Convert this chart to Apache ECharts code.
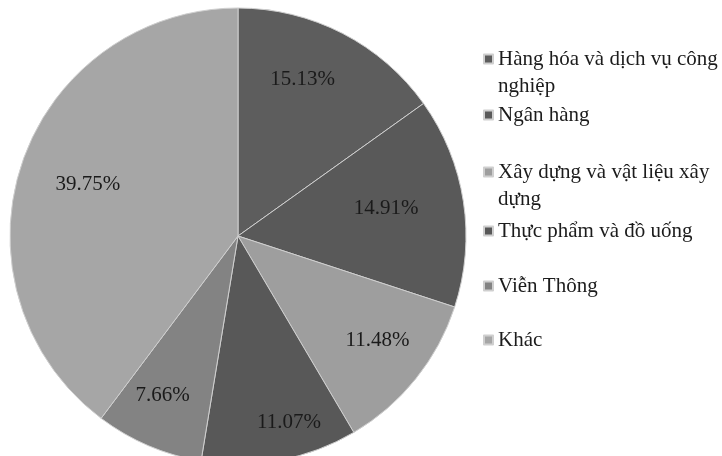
<!DOCTYPE html>
<html>
<head>
<meta charset="utf-8">
<script src="https://cdn.jsdelivr.net/npm/echarts@6/dist/echarts.min.js"></script>
<style>
html,body{margin:0;padding:0;background:#fff;}
#chart{width:722px;height:456px;}
</style>
</head>
<body>
<div id="chart"></div>
<script>
const categories = [
  'Hàng hóa và dịch vụ công nghiệp',
  'Ngân hàng',
  'Xây dựng và vật liệu xây dựng',
  'Thực phẩm và đồ uống',
  'Viễn Thông',
  'Khác'
];
const legendText = [
  'Hàng hóa và dịch vụ công\nnghiệp',
  'Ngân hàng',
  'Xây dựng và vật liệu xây\ndựng',
  'Thực phẩm và đồ uống',
  'Viễn Thông',
  'Khác'
];
const values = [15.13, 14.91, 11.48, 11.07, 7.66, 39.75];

const FONT = '"Liberation Serif", "DejaVu Serif", serif';
const LH = 27;

function buildOption() {
  const colors = ['#5d5d5d', '#595959', '#9e9e9e', '#585858', '#838383', '#a6a6a6'];
  const legendIconY = [59, 115, 172, 231, 286, 340];
  const labelNudge = [[-15, -2], [-24, -1], [4, -5], [19, 15], [-7, -1], [15, 4]];

  const legends = categories.map((c, i) => {
    const multi = legendText[i].indexOf('\n') >= 0;
    return {
      orient: 'vertical',
      left: 483,
      top: legendIconY[i] - (multi ? LH * 1.5 : LH / 2),
      padding: 0,
      itemWidth: 9,
      itemHeight: 9,
      icon: 'rect',
      selectedMode: false,
      data: [c],
      formatter: () => multi ? '\u200b\n' + legendText[i] : legendText[i],
      textStyle: { fontFamily: FONT, fontSize: 21, color: '#1c1c1c', lineHeight: LH }
    };
  });

  return {
    backgroundColor: '#ffffff',
    animation: false,
    legend: legends,
    series: [
      {
        type: 'pie',
        center: [238, 236],
        radius: '100%',
        startAngle: 90,
        clockwise: true,
        silent: true,
        data: categories.map((c, i) => ({ name: c, value: values[i], itemStyle: { color: colors[i] } })),
        itemStyle: { borderColor: '#cfcfcf', borderWidth: 1 },
        label: { show: false },
        labelLine: { show: false }
      },
      {
        type: 'pie',
        center: [238, 236],
        radius: ['50%', '100%'],
        startAngle: 90,
        clockwise: true,
        silent: true,
        legendHoverLink: false,
        data: categories.map((c, i) => ({
          name: c + ' ',
          value: values[i],
          label: { offset: labelNudge[i] }
        })),
        itemStyle: { color: 'rgba(0,0,0,0)', borderWidth: 0 },
        label: {
          show: true,
          position: 'inside',
          formatter: p => values[p.dataIndex].toFixed(2) + '%',
          fontFamily: FONT,
          fontSize: 21,
          color: '#1a1a1a'
        },
        labelLine: { show: false }
      }
    ]
  };
}

const chart = echarts.init(document.getElementById('chart'), null, { renderer: 'canvas' });
chart.setOption(buildOption());
</script>
</body>
</html>
